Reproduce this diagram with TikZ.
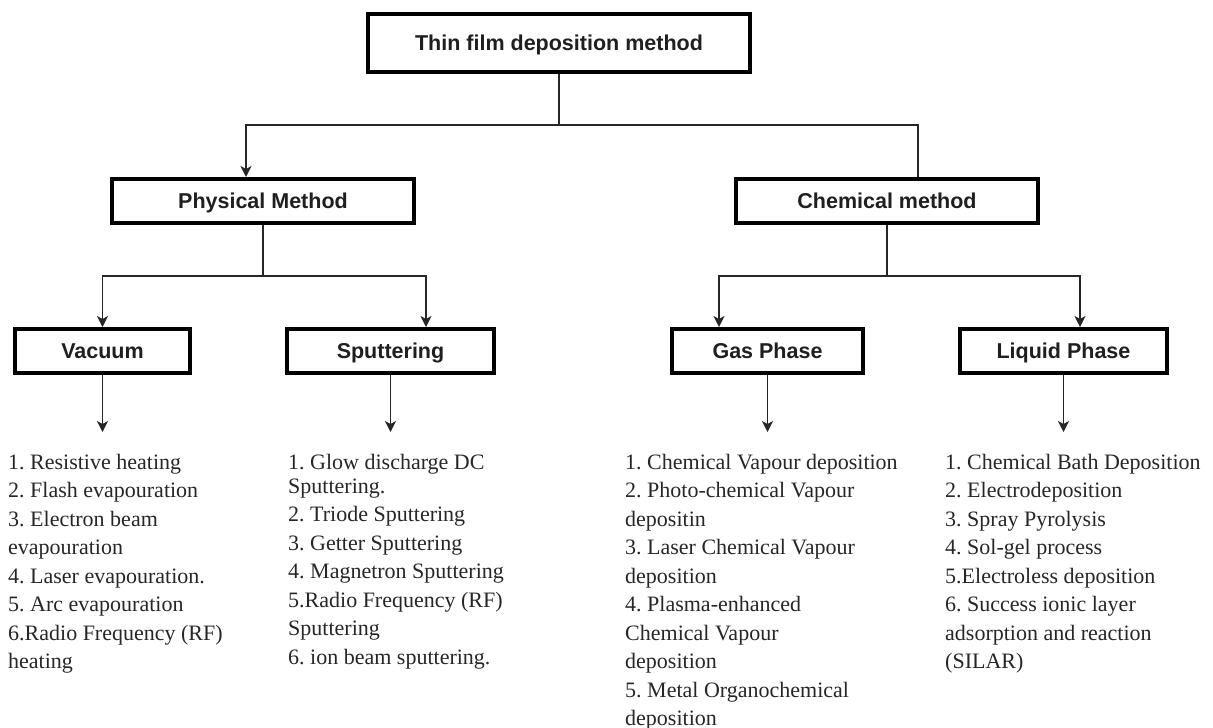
\documentclass[tikz,border=0pt]{standalone}
\usepackage{fontspec}
\setmainfont{Liberation Serif}
\setsansfont{Liberation Sans}
\usetikzlibrary{arrows.meta}
\begin{document}
\begin{tikzpicture}[x=1pt,y=-1pt,
  box/.style={draw=black, line width=4pt, fill=white, inner sep=0pt, minimum height=44pt,
    text height=15.4pt, text depth=0pt,
    font=\sffamily\bfseries\fontsize{21.5}{26}\selectfont, text=black!88},
  conn/.style={draw=black!85, line width=1.4pt},
  arr/.style={conn, -{Stealth[length=11pt,width=11pt,inset=3pt]}},
  list/.style={anchor=base west, inner sep=0pt, font=\rmfamily\fontsize{22}{28.5}\selectfont\frenchspacing, text=black!85}]
\useasboundingbox (0,0) rectangle (1213,728);

% boxes
\node[box, minimum width=382pt, minimum height=57.5pt] (top) at (559,43) {Thin film deposition method};
\node[box, minimum width=302pt] (phys) at (263,201) {Physical Method};
\node[box, minimum width=302pt] (chem) at (887,201) {Chemical method};
\node[box, minimum width=175pt] (vac) at (102.5,351) {Vacuum};
\node[box, minimum width=207pt] (sput) at (390.5,351) {Sputtering};
\node[box, minimum width=191pt] (gas) at (767.5,351) {Gas Phase};
\node[box, minimum width=207pt] (liq) at (1063.5,351) {Liquid Phase};

% junctions
\coordinate (j1) at (559,125);
\coordinate (j2) at (263,276);
\coordinate (j3) at (887,276);

\draw[conn] (top.south) -- (j1);
\draw[arr] (j1) -| ([xshift=-17pt]phys.north);
\draw[conn] (j1) -| ([xshift=31pt]chem.north);
\draw[conn] (phys.south) -- (j2);
\draw[arr] (j2) -| (vac.north);
\draw[arr] (j2) -| ([xshift=35.5pt]sput.north);
\draw[conn] (chem.south) -- (j3);
\draw[arr] (j3) -| ([xshift=-48.5pt]gas.north);
\draw[arr] (j3) -| ([xshift=16.5pt]liq.north);

% down arrows to lists
\coordinate (vacE) at (102.5,432);
\coordinate (sputE) at (390.5,432);
\coordinate (gasE) at (767.5,432);
\coordinate (liqE) at (1063.5,432);
\draw[arr] (vac.south) -- (vacE);
\draw[arr] (sput.south) -- (sputE);
\draw[arr] (gas.south) -- (gasE);
\draw[arr] (liq.south) -- (liqE);

% lists
\node[list] (vlist) at (8,469) {\parbox[t]{270pt}{\raggedright
1. Resistive heating\\
2. Flash evapouration\\
3. Electron beam\\
evapouration\\
4. Laser evapouration.\\
5. Arc evapouration\\
6.Radio Frequency (RF)\\
heating}};

\node[list] (slist) at (288,469) {\parbox[t]{270pt}{\raggedright
1. Glow discharge DC\\[-4.5pt]
Sputtering.\\
2. Triode Sputtering\\
3. Getter Sputtering\\
4. Magnetron Sputtering\\
5.Radio Frequency (RF)\\
Sputtering\\
6. ion beam sputtering.}};

\node[list] (glist) at (625,469) {\parbox[t]{300pt}{\raggedright
1. Chemical Vapour deposition\\
2. Photo-chemical Vapour\\
depositin\\
3. Laser Chemical Vapour\\
deposition\\
4. Plasma-enhanced\\
Chemical Vapour\\
deposition\\
5. Metal Organochemical\\
deposition}};

\node[list] (llist) at (945,469) {\parbox[t]{268pt}{\raggedright
1. Chemical Bath Deposition\\
2. Electrodeposition\\
3. Spray Pyrolysis\\
4. Sol-gel process\\
5.Electroless deposition\\
6. Success ionic layer\\
adsorption and reaction\\
(SILAR)}};
\end{tikzpicture}
\end{document}
